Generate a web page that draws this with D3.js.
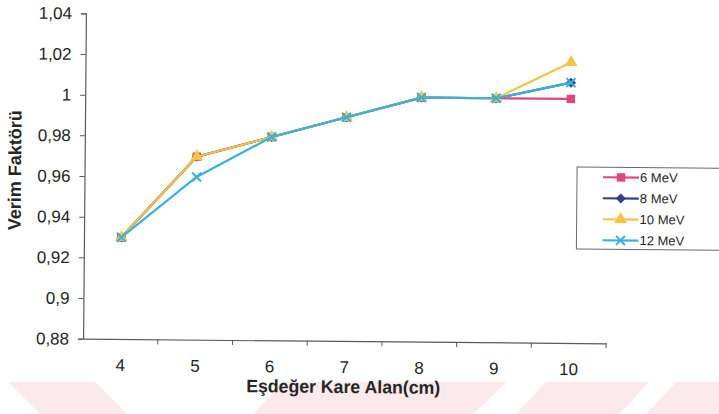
<!DOCTYPE html>
<html>
<head>
<meta charset="utf-8">
<script src="https://cdn.jsdelivr.net/npm/d3@7"></script>
<style>
  html, body { margin: 0; padding: 0; background: #ffffff; }
  svg { display: block; }
  text { font-family: "Liberation Sans", Arial, sans-serif; fill: #262626; }
</style>
</head>
<body>
<svg id="chart" width="719" height="414"></svg>
<script>
// Equivalent square field size (cm) on the category axis
const categories = ["4", "5", "6", "7", "8", "9", "10"];

// Output factor per beam energy
const seriesNames = ["6 MeV", "8 MeV", "10 MeV", "12 MeV"];
const values6MeV  = [0.930, 0.970, 0.980, 0.990, 1.000, 1.000, 1.000];
const values8MeV  = [0.930, 0.970, 0.980, 0.990, 1.000, 1.000, 1.008];
const values10MeV = [0.930, 0.970, 0.980, 0.990, 1.000, 1.000, 1.018];
const values12MeV = [0.930, 0.960, 0.980, 0.990, 1.000, 1.000, 1.008];

// Value axis ticks and their labels (decimal comma)
const yTickValues = [0.88, 0.90, 0.92, 0.94, 0.96, 0.98, 1.00, 1.02, 1.04];
const yTickLabels = ["0,88", "0,9", "0,92", "0,94", "0,96", "0,98", "1", "1,02", "1,04"];

const xTitle = "Eşdeğer Kare Alan(cm)";
const yTitle = "Verim Faktörü";

const seriesValues = [values6MeV, values8MeV, values10MeV, values12MeV];
const seriesColors = ["#e2447d", "#363b8c", "#f6c445", "#35b3dd"];
const seriesSymbols = ["square", "diamond", "triangle", "cross"];

const svg = d3.select("#chart");

// faint diagonal bands of the page background
const bands = [
  [[8, 382], [95, 382], [127, 414], [40, 414]],
  [[283, 382], [506, 382], [474, 414], [253, 414]],
  [[546, 382], [649, 382], [619, 414], [516, 414]],
  [[676, 382], [719, 382], [719, 414], [646, 414]]
];
svg.append("g").selectAll("path").data(bands).join("path")
  .attr("d", d => "M" + d.join("L") + "Z")
  .attr("fill", "#fce9eb");

const plot = { left: 84.5, right: 607.5, top: 15.6, bottom: 341 };

// the whole figure sits very slightly turned
const root = svg.append("g").attr("transform", "rotate(0.5, 345, 178)");

const x = d3.scaleBand().domain(categories).range([plot.left, plot.right]).padding(0);
const y = d3.scaleLinear().domain([0.88, 1.04]).range([plot.bottom, plot.top]);

const axisColor = "#5a5a5a";

// value axis
const yAxis = d3.axisLeft(y)
  .tickValues(yTickValues)
  .tickFormat((d, i) => yTickLabels[i])
  .tickSize(5)
  .tickPadding(9);
const gy = root.append("g")
  .attr("transform", `translate(${plot.left},0)`)
  .call(yAxis);
gy.select(".domain").attr("stroke", axisColor).attr("stroke-width", 1.2);
gy.selectAll(".tick line").attr("stroke", axisColor);
gy.selectAll(".tick text")
  .attr("font-size", 17)
  .attr("fill", "#262626")
  .style("font-family", "'Liberation Sans', Arial, sans-serif");

// category axis: ticks between categories, labels centred on each band
const xAxis = d3.axisBottom(x).tickSize(0).tickPadding(20);
const gx = root.append("g")
  .attr("transform", `translate(0,${plot.bottom})`)
  .call(xAxis);
gx.select(".domain").attr("stroke", axisColor).attr("stroke-width", 1.2);
gx.selectAll(".tick text")
  .attr("font-size", 17)
  .attr("fill", "#262626")
  .style("font-family", "'Liberation Sans', Arial, sans-serif");
const boundaries = categories.map(c => x(c)).concat([x(categories[categories.length - 1]) + x.bandwidth()]);
gx.append("g").selectAll("line").data(boundaries.slice(1)).join("line")
  .attr("x1", d => d).attr("x2", d => d)
  .attr("y1", 0).attr("y2", 5)
  .attr("stroke", axisColor);

// axis titles
root.append("text")
  .attr("x", 345).attr("y", 393)
  .attr("text-anchor", "middle")
  .attr("font-size", 18).attr("font-weight", "bold")
  .attr("textLength", 194).attr("lengthAdjust", "spacingAndGlyphs")
  .text(xTitle);

root.append("text")
  .attr("transform", "translate(21,173) rotate(-90)")
  .attr("text-anchor", "middle")
  .attr("font-size", 18).attr("font-weight", "bold")
  .attr("textLength", 120).attr("lengthAdjust", "spacingAndGlyphs")
  .text(yTitle);

// marker drawing
function marker(sel, type, color) {
  if (type === "cross") {
    sel.append("path")
      .attr("d", "M-4.5,-4.5L4.5,4.5M-4.5,4.5L4.5,-4.5")
      .attr("stroke", color).attr("stroke-width", 2).attr("fill", "none");
  } else if (type === "diamond") {
    sel.append("path")
      .attr("d", "M0,-5L5,0L0,5L-5,0Z")
      .attr("fill", color);
  } else {
    const t = type === "square" ? d3.symbolSquare : d3.symbolTriangle;
    const size = type === "square" ? 72 : 70;
    sel.append("path")
      .attr("d", d3.symbol(t, size)())
      .attr("fill", color);
  }
}

const line = d3.line()
  .x((d, i) => x(categories[i]) + x.bandwidth() / 2)
  .y(d => y(d));

seriesValues.forEach((vals, s) => {
  const g = root.append("g");
  g.append("path")
    .datum(vals)
    .attr("d", line)
    .attr("fill", "none")
    .attr("stroke", seriesColors[s])
    .attr("stroke-width", 2.2);
  g.selectAll("g.pt").data(vals).join("g")
    .attr("class", "pt")
    .attr("transform", (d, i) => `translate(${x(categories[i]) + x.bandwidth() / 2},${y(d)})`)
    .each(function () { marker(d3.select(this), seriesSymbols[s], seriesColors[s]); });
});

// legend
const legend = root.append("g").attr("transform", "translate(577,165)");
legend.append("rect")
  .attr("x", 0).attr("y", 0).attr("width", 160).attr("height", 82)
  .attr("fill", "#ffffff").attr("stroke", "#6a6a6a").attr("stroke-width", 1);
seriesNames.forEach((name, s) => {
  const row = legend.append("g").attr("transform", `translate(0,${10 + s * 21})`);
  row.append("line")
    .attr("x1", 26).attr("x2", 62).attr("y1", 0).attr("y2", 0)
    .attr("stroke", seriesColors[s]).attr("stroke-width", 2.2);
  const m = row.append("g").attr("transform", "translate(44,0)");
  marker(m, seriesSymbols[s], seriesColors[s]);
  row.append("text")
    .attr("x", 63).attr("y", 4.5)
    .attr("font-size", 13)
    .text(name);
});
</script>
</body>
</html>
